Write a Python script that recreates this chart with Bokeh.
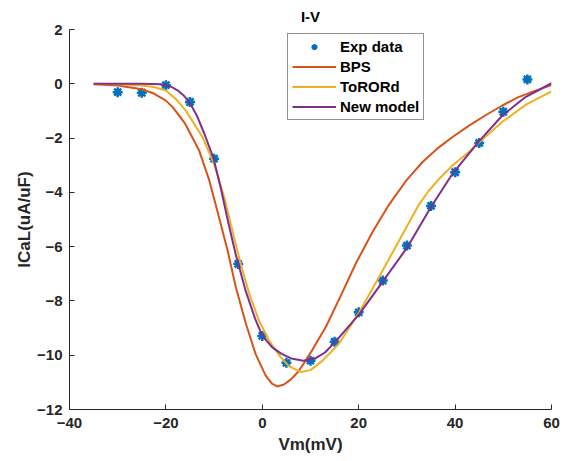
from bokeh.plotting import figure
from bokeh.models import Range1d, FixedTicker, Legend, LegendItem
from bokeh.embed import file_html
from bokeh.resources import INLINE

# ---- data ----
exp_v = [-30, -25, -20, -15, -10, -5, 0, 5, 10, 15, 20, 25, 30, 35, 40, 45, 50, 55]
exp_i = [-0.31, -0.33, -0.05, -0.67, -2.76, -6.64, -9.29, -10.28, -10.2, -9.5,
         -8.42, -7.25, -5.96, -4.5, -3.26, -2.18, -1.03, 0.16]

bps_v = [-35, -30, -25, -22.5, -20, -18.6, -16, -13.1, -11, -9, -7.2, -5.5, -3.4,
         -1.4, 0.7, 2, 3.1, 4.5, 6, 7.5, 9, 10.4, 13.2, 15.9, 19.4, 22.9, 26.3,
         29.8, 33.2, 36.5, 39.4, 42.9, 46.4, 49.8, 53, 56.7, 60]
bps_i = [-0.02, -0.06, -0.2, -0.36, -0.62, -0.86, -1.47, -2.46, -3.56, -4.91, -6.14,
         -7.49, -8.84, -9.95, -10.75, -11.05, -11.15, -11.08, -10.88, -10.6, -10.2,
         -9.8, -8.95, -7.95, -6.62, -5.45, -4.45, -3.58, -2.89, -2.36, -1.97, -1.54,
         -1.15, -0.8, -0.5, -0.25, -0.05]

tor_v = [-35, -30, -25, -22.5, -20, -18, -15.9, -12.4, -10, -7.9, -6.2, -4.5, -2.7,
         -0.7, 1.4, 3.8, 5.5, 8, 10, 12.5, 15.9, 20.1, 24.2, 28.4, 32.5, 34.5, 36.7,
         39.4, 42.9, 44.6, 49.8, 54.6, 60]
tor_i = [0.0, -0.02, -0.06, -0.12, -0.25, -0.55, -0.98, -1.97, -2.95, -4.18, -5.41,
         -6.63, -7.74, -8.72, -9.46, -10.07, -10.4, -10.62, -10.55, -10.2, -9.58,
         -8.42, -7.13, -5.77, -4.45, -3.95, -3.5, -3.02, -2.5, -2.22, -1.4, -0.78,
         -0.28]

new_v = [-35, -30, -25, -21, -19, -17.5, -16.2, -15, -13.5, -12, -10.1, -8.6, -7.2,
         -5.5, -3.5, -1.5, 0, 2, 4, 6, 8.5, 11, 13, 15.2, 20.2, 24.9, 30.1, 34.9,
         39.4, 44.9, 49.8, 54.6, 60]
new_i = [0.0, 0.0, 0.0, -0.02, -0.1, -0.25, -0.45, -0.72, -1.2, -1.85, -2.76, -3.85,
         -5.0, -6.3, -7.6, -8.65, -9.28, -9.7, -9.95, -10.12, -10.2, -10.12, -9.9,
         -9.5, -8.47, -7.31, -6.02, -4.57, -3.33, -2.13, -1.17, -0.49, 0.02]

x_ticks = [-40, -20, 0, 20, 40, 60]
y_ticks = [-12, -10, -8, -6, -4, -2, 0, 2]

FONT = "Liberation Sans"
AX = "#262626"

p = figure(width=570, height=461, output_backend="svg", toolbar_location=None,
           x_range=Range1d(-40, 60), y_range=Range1d(-12, 2),
           min_border_left=69, min_border_right=19, min_border_top=29,
           min_border_bottom=52, title="I-V")

p.title.text_font = FONT
p.title.text_font_size = "15px"
p.title.text_font_style = "bold"
p.title.align = "center"
p.title.text_color = "#000000"

p.outline_line_color = None
p.grid.visible = False
p.background_fill_color = "white"
p.border_fill_color = "white"

for ax in (p.xaxis[0], p.yaxis[0]):
    ax.axis_line_color = AX
    ax.major_tick_line_color = AX
    ax.major_tick_in = 5
    ax.major_tick_out = 0
    ax.minor_tick_line_color = None
    ax.major_label_text_font = FONT
    ax.major_label_text_font_size = "15px"
    ax.major_label_text_font_style = "bold"
    ax.major_label_text_color = AX
    ax.axis_label_text_font = FONT
    ax.axis_label_text_font_size = "17px"
    ax.axis_label_text_font_style = "bold"
    ax.axis_label_text_color = AX

p.xaxis[0].ticker = FixedTicker(ticks=x_ticks)
p.yaxis[0].ticker = FixedTicker(ticks=y_ticks)
p.xaxis[0].axis_label = "Vm(mV)"
p.yaxis[0].axis_label = "ICaL(uA/uF)"
p.xaxis[0].major_label_standoff = 8
p.xaxis[0].axis_label_standoff = 4
p.yaxis[0].major_label_standoff = 7
p.yaxis[0].axis_label_standoff = 0

r_exp = p.scatter(exp_v, exp_i, marker="asterisk", size=10, line_width=2.5,
                  color="#0072BD")
r_bps = p.line(bps_v, bps_i, line_color="#D95319", line_width=2, line_join="round")
r_tor = p.line(tor_v, tor_i, line_color="#EDB120", line_width=2, line_join="round")
r_new = p.line(new_v, new_i, line_color="#7E2F8E", line_width=2, line_join="round")

legend = Legend(items=[
    LegendItem(label="Exp data", renderers=[r_exp]),
    LegendItem(label="BPS", renderers=[r_bps]),
    LegendItem(label="ToRORd", renderers=[r_tor]),
    LegendItem(label="New model", renderers=[r_new]),
], location=(218, 289))
legend.label_text_font = FONT
legend.label_text_font_size = "15px"
legend.label_text_font_style = "bold"
legend.label_text_color = "#000000"
legend.glyph_width = 44
legend.glyph_height = 15
legend.label_height = 15
legend.label_standoff = 4
legend.spacing = 3
legend.padding = 4
legend.margin = 0
legend.border_line_color = AX
legend.border_line_width = 1
legend.background_fill_alpha = 1.0
p.add_layout(legend, "center")

open("out.html", "w").write(file_html(p, INLINE))
